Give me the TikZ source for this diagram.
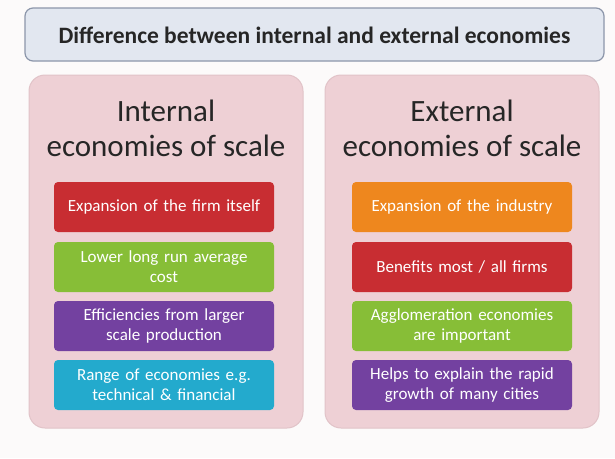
\documentclass[tikz,border=0pt]{standalone}
\usepackage{fontspec}
\setmainfont{Carlito}
\definecolor{bg}{RGB}{252,250,250}
\definecolor{titlefill}{RGB}{226,231,240}
\definecolor{titledraw}{RGB}{140,150,170}
\definecolor{panelfill}{RGB}{238,208,213}
\definecolor{paneldraw}{RGB}{225,195,200}
\definecolor{cred}{RGB}{200,45,50}
\definecolor{cgreen}{RGB}{135,190,55}
\definecolor{cpurple}{RGB}{115,65,160}
\definecolor{ccyan}{RGB}{35,170,205}
\definecolor{corange}{RGB}{238,135,30}
\tikzset{
  x=1pt, y=-1pt,
  titlebox/.style={draw=titledraw, line width=1.2pt, fill=titlefill, rounded corners=8pt},
  panel/.style={draw=paneldraw, line width=1pt, fill=panelfill, rounded corners=16pt},
  itembox/.style={rounded corners=4pt, minimum width=220pt, minimum height=50pt, text width=214pt, align=center, text=white, font=\fontsize{17}{20}\selectfont, inner sep=0pt},
  headtext/.style={align=center, font=\fontsize{31}{35}\selectfont, text=black!85},
}
\begin{document}
\begin{tikzpicture}
\path[fill=bg] (0,0) rectangle (615,458);
\useasboundingbox (0,0) rectangle (615,458);
% title
\draw[titlebox] (25,8) rectangle (604,61);
\node[font=\bfseries\fontsize{23.5}{26}\selectfont, text=black!85] (title) at (314.5,35) {Difference between internal and external economies};
% panels
\draw[panel] (29,75) rectangle (303,428);
\draw[panel] (325,75) rectangle (599,428);
\node[headtext] (inth) at (166,128) {Internal\\economies of scale};
\node[headtext] (exth) at (462,128) {External\\economies of scale};
% left boxes
\node[itembox, fill=cred] (l1) at (164,207) {Expansion of the firm itself};
\node[itembox, fill=cgreen] (l2) at (164,267) {Lower long run average\\cost};
\node[itembox, fill=cpurple] (l3) at (164,326) {Efficiencies from larger\\scale production};
\node[itembox, fill=ccyan] (l4) at (164,385) {Range of economies e.g.\\technical \& financial};
% right boxes
\node[itembox, fill=corange] (r1) at (462,207) {Expansion of the industry};
\node[itembox, fill=cred] (r2) at (462,267) {Benefits most / all firms};
\node[itembox, fill=cgreen] (r3) at (462,326) {Agglomeration economies\\are important};
\node[itembox, fill=cpurple] (r4) at (462,385) {Helps to explain the rapid\\growth of many cities};
\end{tikzpicture}
\end{document}
